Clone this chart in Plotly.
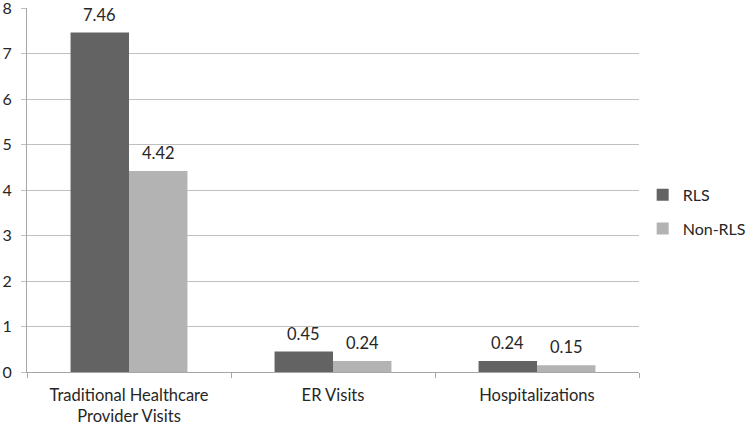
import plotly.graph_objects as go

categories = ["Traditional Healthcare<br>Provider Visits", "ER Visits", "Hospitalizations"]
rls = [7.46, 0.45, 0.24]
non_rls = [4.42, 0.24, 0.15]
series_names = ["RLS", "Non-RLS"]
colors = ["#636363", "#b3b3b3"]
y_ticks = [0, 1, 2, 3, 4, 5, 6, 7, 8]

FONT = "Lato"
TXT = "#262626"

fig = go.Figure()
for i, (name, vals) in enumerate(zip(series_names, [rls, non_rls])):
    fig.add_trace(go.Bar(
        x=categories, y=vals, name=name,
        marker=dict(color=colors[i], line=dict(width=0)),
        legendgroup=name,
    ))
    for c, v in zip(categories, vals):
        fig.add_annotation(
            x=c, y=v, text=f"{v:.2f}", showarrow=False,
            xref="x", yref="y", yanchor="bottom",
            xshift=(-29.5 if i == 0 else 29.5), yshift=6,
            font=dict(family=FONT, size=16.5, color=TXT),
        )

fig.update_layout(
    width=747, height=425,
    margin=dict(l=27, r=108, t=8, b=53, autoexpand=False),
    paper_bgcolor="white", plot_bgcolor="white",
    barmode="group", bargap=0.427, bargroupgap=0,
    font=dict(family=FONT, size=16.5, color=TXT),
    legend=dict(
        x=1.006, xanchor="left", y=0.44, yanchor="middle",
        font=dict(family=FONT, size=16, color=TXT),
        traceorder="grouped", tracegroupgap=10, itemwidth=30,
        bgcolor="rgba(0,0,0,0)",
    ),
    showlegend=True,
)
fig.update_xaxes(
    type="category", showgrid=False, automargin=False,
    showline=True, linecolor="#a6a6a6", linewidth=1,
    ticks="outside", tickson="boundaries", ticklen=5, tickcolor="#a6a6a6",
    tickfont=dict(family=FONT, size=16.5, color=TXT),
    ticklabelstandoff=8,
)
fig.update_yaxes(
    range=[0, 8], tickvals=y_ticks, automargin=False,
    showgrid=True, gridcolor="#bfbfbf", gridwidth=1,
    showline=True, linecolor="#a6a6a6", linewidth=1,
    ticks="outside", ticklen=5, tickcolor="#bfbfbf",
    tickfont=dict(family=FONT, size=16, color=TXT),
    zeroline=False, ticklabelstandoff=6, ticklabeloverflow="allow",
)

fig.write_html("out.html", config={"displayModeBar": False},
               post_script="document.body.style.margin='0';")
